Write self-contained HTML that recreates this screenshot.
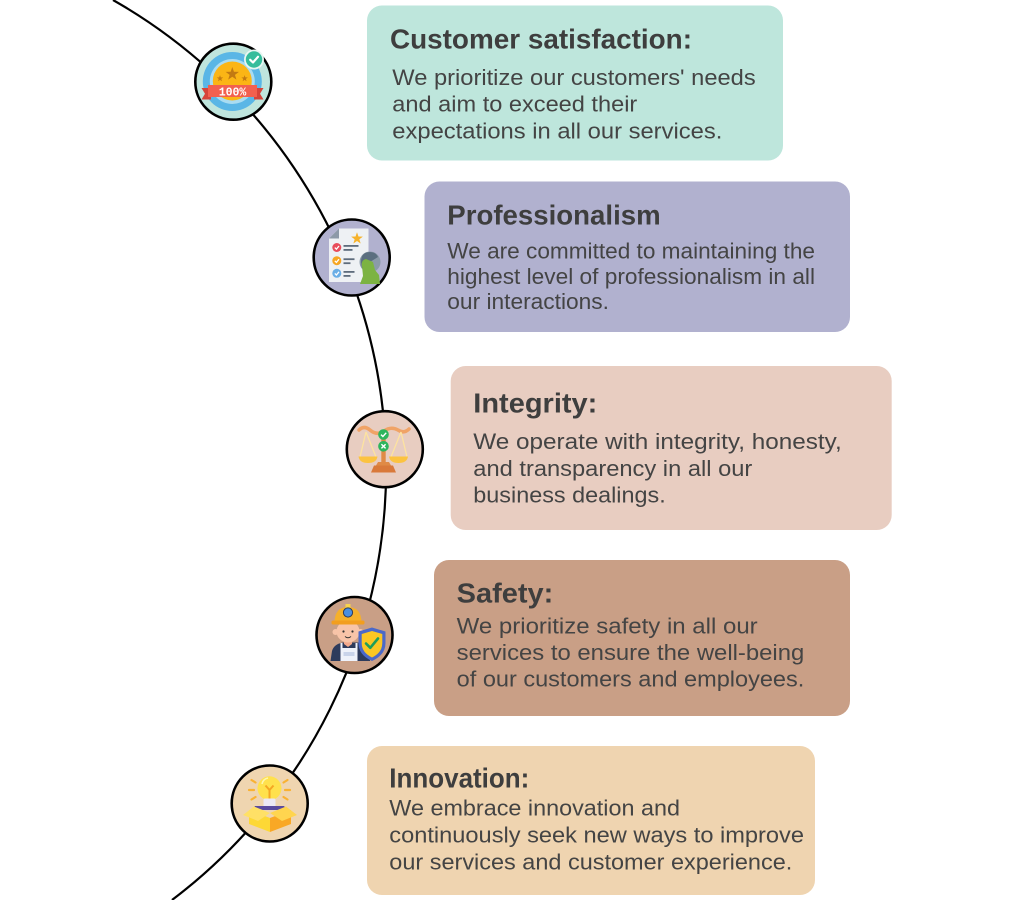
<!DOCTYPE html>
<html>
<head>
<meta charset="utf-8">
<style>
  html, body { margin: 0; padding: 0; background: #ffffff; width: 1024px; height: 900px; overflow: hidden; }
  #wrap { position: relative; width: 1024px; height: 900px; overflow: hidden; }
  svg { display: block; overflow: hidden; }
  .t { font-family: "Liberation Sans", Arial, sans-serif; font-weight: bold; font-size: 28px; fill: #3e3e3e; }
  .b { font-family: "Liberation Sans", Arial, sans-serif; font-size: 22px; fill: #444444; }
</style>
</head>
<body>
<div id="wrap">
<svg width="1024" height="900" viewBox="0 0 1024 900" xmlns="http://www.w3.org/2000/svg">
  <defs>
    <polygon id="star" points="0,-1 0.235,-0.324 0.951,-0.309 0.380,0.124 0.588,0.809 0,0.4 -0.588,0.809 -0.380,0.124 -0.951,-0.309 -0.235,-0.324"/>
    <clipPath id="frame"><rect x="0" y="0" width="1024" height="900"/></clipPath>
  </defs>

  <g clip-path="url(#frame)">
  <!-- big arc -->
  <path d="M 113 0 A 540 540 0 0 1 172 900" fill="none" stroke="#000" stroke-width="2.2"/>

  <!-- boxes -->
  <rect x="367" y="5.5" width="416" height="155" rx="15" fill="#bee6dc"/>
  <rect x="424.5" y="181.5" width="425.5" height="150.5" rx="15" fill="#b1b1cf"/>
  <rect x="450.7" y="366" width="441" height="164" rx="15" fill="#e8cdc1"/>
  <rect x="434" y="560" width="416" height="156" rx="15" fill="#c99f86"/>
  <rect x="367" y="746" width="448" height="149" rx="15" fill="#efd4b0"/>

  <!-- box 1 text -->
  <text class="t" x="390" y="48.3" textLength="302" lengthAdjust="spacingAndGlyphs">Customer satisfaction:</text>
  <text class="b" x="392.3" y="85" textLength="363.4" lengthAdjust="spacingAndGlyphs">We prioritize our customers' needs</text>
  <text class="b" x="392.3" y="111.7" textLength="245" lengthAdjust="spacingAndGlyphs">and aim to exceed their</text>
  <text class="b" x="392.3" y="138.3" textLength="330" lengthAdjust="spacingAndGlyphs">expectations in all our services.</text>

  <!-- box 2 text -->
  <text class="t" x="447.3" y="224.3" textLength="213.4" lengthAdjust="spacingAndGlyphs">Professionalism</text>
  <text class="b" x="447.3" y="258.3" textLength="367.7" lengthAdjust="spacingAndGlyphs">We are committed to maintaining the</text>
  <text class="b" x="447.3" y="284" textLength="367.7" lengthAdjust="spacingAndGlyphs">highest level of professionalism in all</text>
  <text class="b" x="447.3" y="309" textLength="161.7" lengthAdjust="spacingAndGlyphs">our interactions.</text>

  <!-- box 3 text -->
  <text class="t" x="473.3" y="412.3" textLength="124" lengthAdjust="spacingAndGlyphs">Integrity:</text>
  <text class="b" x="473.3" y="449" textLength="368.4" lengthAdjust="spacingAndGlyphs">We operate with integrity, honesty,</text>
  <text class="b" x="473.3" y="476" textLength="279" lengthAdjust="spacingAndGlyphs">and transparency in all our</text>
  <text class="b" x="473.3" y="502.7" textLength="192.4" lengthAdjust="spacingAndGlyphs">business dealings.</text>

  <!-- box 4 text -->
  <text class="t" x="456.7" y="602.3" textLength="96.6" lengthAdjust="spacingAndGlyphs">Safety:</text>
  <text class="b" x="456.7" y="633.3" textLength="301" lengthAdjust="spacingAndGlyphs">We prioritize safety in all our</text>
  <text class="b" x="456.7" y="660" textLength="347.6" lengthAdjust="spacingAndGlyphs">services to ensure the well-being</text>
  <text class="b" x="456.7" y="686.7" textLength="347.6" lengthAdjust="spacingAndGlyphs">of our customers and employees.</text>

  <!-- box 5 text -->
  <text class="t" x="389.3" y="787.3" textLength="140" lengthAdjust="spacingAndGlyphs">Innovation:</text>
  <text class="b" x="389.3" y="815.7" textLength="290.7" lengthAdjust="spacingAndGlyphs">We embrace innovation and</text>
  <text class="b" x="389.3" y="842.7" textLength="414.7" lengthAdjust="spacingAndGlyphs">continuously seek new ways to improve</text>
  <text class="b" x="389.3" y="869.3" textLength="403" lengthAdjust="spacingAndGlyphs">our services and customer experience.</text>

  <!-- node circles -->
  <circle cx="233.3" cy="81.7" r="38" fill="#bfe5dd" stroke="#000" stroke-width="2.6"/>
  <circle cx="351.7" cy="257.5" r="38" fill="#b1b1cf" stroke="#000" stroke-width="2.6"/>
  <circle cx="384.8" cy="449.2" r="38" fill="#e8cdc1" stroke="#000" stroke-width="2.6"/>
  <circle cx="354.5" cy="635" r="38" fill="#c99f86" stroke="#000" stroke-width="2.6"/>
  <circle cx="269.7" cy="803.5" r="38" fill="#efd5b0" stroke="#000" stroke-width="2.6"/>

  <!-- ICON 1: 100% badge -->
  <g>
    <circle cx="232.3" cy="81.5" r="29.5" fill="#5ab6e6"/>
    <circle cx="232.3" cy="81.5" r="22.5" fill="#a9dcf2"/>
    <circle cx="232.3" cy="81" r="19.5" fill="#fbb515"/>
    <use href="#star" transform="translate(232.3,74) scale(7)" fill="#c27a12"/>
    <use href="#star" transform="translate(220,78.5) scale(3.4)" fill="#c27a12"/>
    <use href="#star" transform="translate(244.6,78.5) scale(3.4)" fill="#c27a12"/>
    <polygon points="201.5,88 211,88 211,99.5 201.5,99.5 205,93.7" fill="#d6443a"/>
    <polygon points="263.5,88 254,88 254,99.5 263.5,99.5 260,93.7" fill="#d6443a"/>
    <rect x="208" y="85" width="49" height="12" fill="#f2604f"/>
    <text x="232.5" y="95.3" text-anchor="middle" font-family="'Liberation Mono', 'DejaVu Sans Mono', monospace" font-weight="bold" font-size="11.5" fill="#ffffff">100%</text>
    <circle cx="254" cy="59.5" r="10" fill="#e8f6f2"/>
    <circle cx="254" cy="59.5" r="8.2" fill="#36bd9c"/>
    <polyline points="250.2,59.8 253,62.5 258,56.8" fill="none" stroke="#ffffff" stroke-width="2.2" stroke-linecap="round" stroke-linejoin="round"/>
  </g>

  <!-- ICON 2: document + person -->
  <g>
    <polygon points="339,228.5 368.5,228.5 368.5,282 329,282 329,238.5" fill="#eef1f4"/>
    <polygon points="329,238.5 339,228.5 339,238.5" fill="#8d99a8"/>
    <use href="#star" transform="translate(357,238.5) scale(6.2)" fill="#f6b22a"/>
    <circle cx="336.8" cy="247.5" r="4.5" fill="#e84c5a"/>
    <circle cx="336.8" cy="260.7" r="4.5" fill="#f6a623"/>
    <circle cx="336.8" cy="273.3" r="4.5" fill="#6aaee6"/>
    <polyline points="334.8,247.6 336.4,249.2 339,246" fill="none" stroke="#fff" stroke-width="1.3"/>
    <polyline points="334.8,260.8 336.4,262.4 339,259.2" fill="none" stroke="#fff" stroke-width="1.3"/>
    <polyline points="334.8,273.4 336.4,275 339,271.8" fill="none" stroke="#fff" stroke-width="1.3"/>
    <rect x="343.5" y="245" width="15" height="1.8" fill="#5e6c7c"/>
    <rect x="343.5" y="249" width="9" height="1.8" fill="#5e6c7c"/>
    <rect x="343.5" y="258.3" width="11" height="1.8" fill="#5e6c7c"/>
    <rect x="343.5" y="262.3" width="7" height="1.8" fill="#5e6c7c"/>
    <rect x="343.5" y="271" width="11" height="1.8" fill="#5e6c7c"/>
    <rect x="343.5" y="275" width="7" height="1.8" fill="#5e6c7c"/>
    <circle cx="370" cy="262" r="10.5" fill="#8a9aa8"/>
    <path d="M361,262 Q361,252 370,252 Q376,252 378,257 L370,262 L368,270 L362,268 Z" fill="#5b6f80"/>
    <path d="M362,266 Q361,260 366,259 L373,262 L375,270 L379,275 L380,284 L360,284 L363,276 Z" fill="#7cb342"/>
  </g>

  <!-- ICON 3: scales of justice -->
  <g>
    <path d="M359,430 Q364,425 370,430 Q377,436 384,431 Q391,426 398,430 Q404,434 409,429" fill="none" stroke="#f0a366" stroke-width="3.5" stroke-linecap="round"/>
    <line x1="366" y1="432" x2="360" y2="457" stroke="#fde3a0" stroke-width="1.3"/>
    <line x1="366" y1="432" x2="376" y2="457" stroke="#fde3a0" stroke-width="1.3"/>
    <line x1="401" y1="432" x2="391" y2="457" stroke="#fde3a0" stroke-width="1.3"/>
    <line x1="401" y1="432" x2="407" y2="457" stroke="#fde3a0" stroke-width="1.3"/>
    <path d="M358.5,456.5 L377.5,456.5 Q376.5,463 368,463 Q359.5,463 358.5,456.5 Z" fill="#fcc340"/>
    <path d="M389,456.5 L408,456.5 Q407,463 398.5,463 Q390,463 389,456.5 Z" fill="#fcc340"/>
    <rect x="381.3" y="434" width="4.4" height="31" fill="#e08a45"/>
    <polygon points="378,462 389,462 391,465.5 376,465.5" fill="#e08a45"/>
    <polygon points="374,465.5 393,465.5 396,472.5 371,472.5" fill="#d9793a"/>
    <circle cx="383.5" cy="434.5" r="5.3" fill="#2db55d"/>
    <circle cx="383.5" cy="446.3" r="5.3" fill="#2db55d"/>
    <polyline points="381,434.6 382.9,436.5 386.2,432.8" fill="none" stroke="#fff" stroke-width="1.4"/>
    <line x1="381.4" y1="444.2" x2="385.6" y2="448.4" stroke="#fff" stroke-width="1.4"/>
    <line x1="385.6" y1="444.2" x2="381.4" y2="448.4" stroke="#fff" stroke-width="1.4"/>
  </g>

  <!-- ICON 4: worker with shield -->
  <g>
    <path d="M330.5,661 L332,651 Q334,644 343,642.5 L364,642.5 Q369,645 370,651 L370,661 Z" fill="#2d3b5c"/>
    <rect x="340.5" y="648" width="17" height="13" fill="#eef2fa"/>
    <rect x="340.5" y="643" width="2" height="6" fill="#eef2fa"/>
    <rect x="355.5" y="643" width="2" height="6" fill="#eef2fa"/>
    <rect x="343.5" y="652" width="11" height="4" fill="#c9d4ea"/>
    <path d="M344,640 L352,640 L352,644 L348,647 L344,644 Z" fill="#f3a98c"/>
    <circle cx="335.5" cy="632" r="3" fill="#f8c4a8"/>
    <circle cx="360.5" cy="632" r="3" fill="#f8c4a8"/>
    <ellipse cx="348" cy="631.5" rx="11.5" ry="11" fill="#f8c4a8"/>
    <circle cx="343.5" cy="631.5" r="1.1" fill="#333"/>
    <circle cx="352.5" cy="631.5" r="1.1" fill="#333"/>
    <path d="M345,636.5 Q348,639 351,636.5" fill="none" stroke="#333" stroke-width="1"/>
    <path d="M334.5,623 Q334.5,607 348,607 Q361.5,607 361.5,623 Z" fill="#f5b02a"/>
    <rect x="331.5" y="620.5" width="33" height="4" rx="1.5" fill="#f29e1f"/>
    <rect x="345.5" y="604" width="5" height="4" fill="#f9d44a"/>
    <circle cx="348" cy="612.5" r="4.6" fill="#4a8fe0" stroke="#2d3b5c" stroke-width="1"/>
    <path d="M372,627.5 L385.5,631.5 L385.5,643 Q385.5,655 372,661 Q358.5,655 358.5,643 L358.5,631.5 Z" fill="#4b69c9"/>
    <path d="M372,631 L382.3,634 L382.3,643 Q382.3,652.5 372,657.5 Q361.7,652.5 361.7,643 L361.7,634 Z" fill="#fbc723"/>
    <polyline points="366,643.5 370.3,647.8 378,638.5" fill="none" stroke="#1e9e5a" stroke-width="2.6" stroke-linecap="round" stroke-linejoin="round"/>
  </g>

  <!-- ICON 5: lightbulb in box -->
  <g>
    <g stroke="#f9b233" stroke-width="2.2" stroke-linecap="round">
      <line x1="249" y1="790" x2="254" y2="790"/>
      <line x1="251.5" y1="780" x2="255.5" y2="782.5"/>
      <line x1="251.5" y1="799.5" x2="255.5" y2="797"/>
      <line x1="285" y1="790" x2="290" y2="790"/>
      <line x1="287.5" y1="780" x2="283.5" y2="782.5"/>
      <line x1="287.5" y1="799.5" x2="283.5" y2="797"/>
    </g>
    <circle cx="269.5" cy="788.3" r="12" fill="#ffe14d"/>
    <path d="M262,784 Q263,779 268,778" fill="none" stroke="#fff6b0" stroke-width="1.5"/>
    <polyline points="265.5,785.5 269.5,790 273.5,785.5" fill="none" stroke="#f5a623" stroke-width="2"/>
    <line x1="269.5" y1="790" x2="269.5" y2="799" stroke="#f5a623" stroke-width="2"/>
    <rect x="263.5" y="798.5" width="12" height="9" rx="1.5" fill="#ece8f5"/>
    <polygon points="255,806 284,806 287,810 252,810" fill="#5a4a9e"/>
    <polygon points="249,810 270,818 270,832 249,824" fill="#fdd835"/>
    <polygon points="270,818 291,810 291,824 270,832" fill="#f9a825"/>
    <polygon points="243,815 254,806.5 270,813 258,821" fill="#ffe066"/>
    <polygon points="297,815 286,806.5 270,813 282,821" fill="#ffd54f"/>
  </g>
  </g>
</svg>
</div>
</body>
</html>
